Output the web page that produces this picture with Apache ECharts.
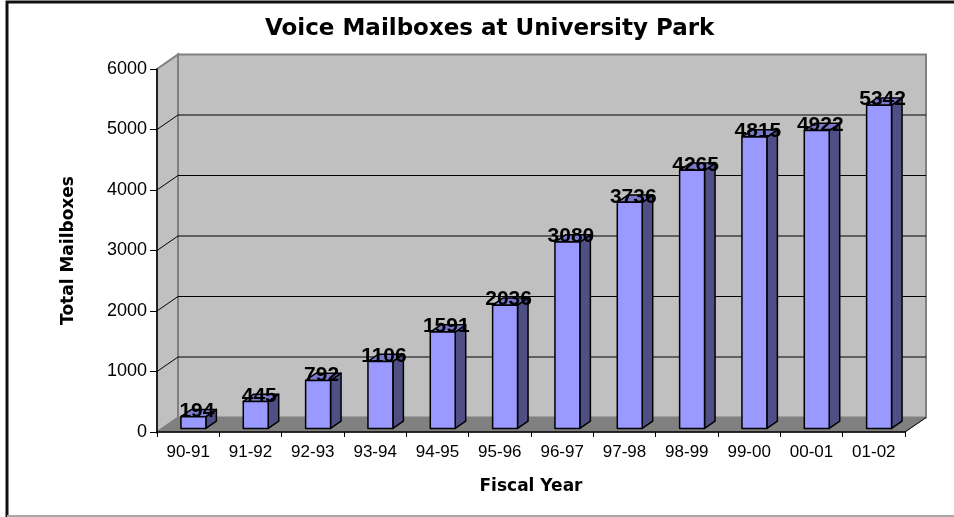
<!DOCTYPE html>
<html><head><meta charset="utf-8">
<script src="https://cdn.jsdelivr.net/npm/echarts@6/dist/echarts.min.js"></script>
<style>html,body{margin:0;padding:0;background:#fff}#c{width:954px;height:517px}</style>
</head><body><div id="c"></div>
<script>
const categories = ['90-91','91-92','92-93','93-94','94-95','95-96','96-97','97-98','98-99','99-00','00-01','01-02'];
const mailboxes = [194,445,792,1106,1591,2036,3080,3736,4265,4815,4922,5342];
const yTicks = [0,1000,2000,3000,4000,5000,6000];

const DX = 21, DY = 14.5;
const FONT = '"Liberation Sans", Arial, sans-serif';
const chart = echarts.init(document.getElementById('c'));

function wallsRender(params, api) {
  const w = api.size([1,0])[0];
  const x0 = api.coord([0,0])[0] - w/2;
  const x1 = api.coord([categories.length-1,0])[0] + w/2;
  const yb = api.coord([0, yTicks[0]])[1];
  const yt = api.coord([0, yTicks[yTicks.length-1]])[1];
  const ch = [];
  ch.push({type:'polygon', shape:{points:[[x0+DX,yt-DY],[x1+DX,yt-DY],[x1+DX,yb-DY],[x0+DX,yb-DY]]}, style:{fill:'#c0c0c0', stroke:'#808080', lineWidth:2}});
  ch.push({type:'polygon', shape:{points:[[x0,yt],[x0+DX,yt-DY],[x0+DX,yb-DY],[x0,yb]]}, style:{fill:'#c0c0c0', stroke:'#808080', lineWidth:2}});
  ch.push({type:'polygon', shape:{points:[[x0,yb],[x1,yb],[x1+DX,yb-DY],[x0+DX,yb-DY]]}, style:{fill:'#808080', stroke:'#808080', lineWidth:1}});
  yTicks.slice(1,-1).forEach(v => {
    const y = api.coord([0,v])[1];
    ch.push({type:'polyline', shape:{points:[[x0,y],[x0+DX,y-DY],[x1+DX,y-DY]]}, style:{stroke:'#000', lineWidth:1, fill:null}});
  });
  ch.push({type:'line', shape:{x1:x1,y1:yb,x2:x1+DX,y2:yb-DY}, style:{stroke:'#000', lineWidth:1}});
  return {type:'group', children:ch};
}

function barRender(params, api) {
  const idx = api.value(0), v = api.value(1);
  const w = api.size([1,0])[0];
  const bw = w / 2.5;
  const c = api.coord([idx, v]);
  const b = api.coord([idx, 0]);
  const fx = DX*0.25, fy = DY*0.25, dx = DX*0.5, dy = DY*0.5;
  const left = c[0] - bw/2 + fx, right = left + bw;
  const top = c[1] - fy, bottom = b[1] - fy;
  const st = {stroke:'#000', lineWidth:1.5, lineJoin:'round'};
  return {type:'group', children:[
    {type:'polygon', shape:{points:[[right,top],[right+dx,top-dy],[right+dx,bottom-dy],[right,bottom]]}, style:Object.assign({fill:'#4f4f85'}, st)},
    {type:'polygon', shape:{points:[[left,top],[right,top],[right+dx,top-dy],[left+dx,top-dy]]}, style:Object.assign({fill:'#7a7acc'}, st)},
    {type:'rect', shape:{x:left, y:top, width:bw, height:bottom-top}, style:Object.assign({fill:'#9999ff'}, st)},
    {type:'text', style:{text:String(v), x:(left+right)/2 + 3.5, y:top + 5, align:'center', verticalAlign:'bottom', fontSize:21, fontWeight:'bold', fontFamily:FONT, fill:'#000'}}
  ]};
}

chart.setOption({
  animation:false,
  title:{text:'Voice Mailboxes at University Park', left:260, top:13,
    textStyle:{fontSize:23, fontWeight:'bold', fontFamily:'DejaVu Sans', color:'#000'}},
  graphic:[
    {type:'polyline', shape:{points:[[7,520],[7,2],[960,2]]}, style:{stroke:'#111', lineWidth:3, fill:null}},
    {type:'line', shape:{x1:7,y1:516,x2:960,y2:516}, style:{stroke:'#a8a8a8', lineWidth:2}}
  ],
  grid:{left:157, right:49, top:69, bottom:85},
  xAxis:{type:'category', data:categories,
    axisLine:{lineStyle:{color:'#000', width:1.5}},
    axisTick:{show:true, length:5, lineStyle:{color:'#000'}},
    axisLabel:{fontSize:17, color:'#000', fontFamily:FONT, margin:12},
    splitLine:{show:false},
    name:'Fiscal Year', nameLocation:'middle', nameGap:46,
    nameTextStyle:{fontSize:17, fontWeight:'bold', fontFamily:'DejaVu Sans', color:'#000'}},
  yAxis:{type:'value', min:0, max:6000, interval:1000,
    axisLine:{show:true, lineStyle:{color:'#000', width:1.5}},
    axisTick:{show:true, length:7, lineStyle:{color:'#000'}},
    axisLabel:{fontSize:18, color:'#000', fontFamily:FONT, margin:10, formatter:v => String(v)},
    splitLine:{show:false},
    name:'Total Mailboxes', nameLocation:'middle', nameRotate:90, nameGap:80,
    nameTextStyle:{fontSize:17, fontWeight:'bold', fontFamily:'DejaVu Sans', color:'#000', padding:[0,0,0,0]}},
  series:[
    {type:'custom', z:-1, silent:true, clip:false, renderItem:wallsRender, data:[[0,0]], encode:{x:0,y:1}},
    {type:'custom', z:3, clip:false, renderItem:barRender, data:mailboxes.map((v,i)=>[i,v]), encode:{x:0,y:1}}
  ]
});
</script></body></html>
